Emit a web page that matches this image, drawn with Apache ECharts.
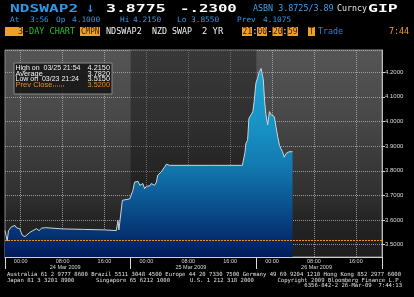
<!DOCTYPE html>
<html><head><meta charset="utf-8">
<script src="https://cdn.jsdelivr.net/npm/echarts@6/dist/echarts.min.js"></script>
<style>html,body{margin:0;padding:0;background:#000;}#c{width:414px;height:297px;}</style>
</head><body><div id="c"></div>
<script>
// ---- data ----
const times = [
 "03/23 21:00","03/23 21:10","03/23 21:25","03/23 21:40","03/23 22:15","03/23 22:55","03/23 23:10","03/23 23:30","03/23 23:50",
 "03/24 00:05","03/24 00:20","03/24 00:50","03/24 01:10","03/24 01:45","03/24 02:20","03/24 03:00","03/24 03:30","03/24 04:00",
 "03/24 04:15","03/24 04:45","03/24 04:55","03/24 08:00","03/24 12:00","03/24 16:00","03/24 18:15","03/24 18:35","03/24 18:45",
 "03/24 19:25","03/24 19:35","03/24 20:50",
 "03/24 21:10","03/24 21:25","03/24 21:45","03/24 22:05","03/24 22:25","03/24 22:45","03/24 23:00","03/24 23:20","03/24 23:40",
 "03/25 00:00","03/25 00:20","03/25 00:40","03/25 00:55","03/25 01:15","03/25 01:35","03/25 01:55","03/25 02:10","03/25 02:30",
 "03/25 02:50","03/25 03:10","03/25 03:30","03/25 03:50","03/25 04:05","03/25 04:25","03/25 12:00","03/25 18:20","03/25 18:30",
 "03/25 18:50","03/25 19:00","03/25 19:20","03/25 19:35","03/25 20:00","03/25 20:20","03/25 20:35","03/25 20:55",
 "03/25 21:15","03/25 21:35","03/25 21:55","03/25 22:05","03/25 22:20","03/25 22:35","03/25 22:50","03/25 23:10","03/25 23:30",
 "03/25 23:50","03/26 00:05","03/26 00:25","03/26 00:45","03/26 01:05","03/26 01:25","03/26 01:40","03/26 02:00","03/26 02:20",
 "03/26 02:40","03/26 03:00","03/26 03:15","03/26 03:55"
];
const values = [
 3.557,3.540,3.515,3.557,3.573,3.578,3.569,3.573,3.564,
 3.550,3.537,3.533,3.540,3.550,3.557,3.565,3.557,3.567,
 3.560,3.569,3.562,3.564,3.562,3.560,3.557,3.598,3.560,
 3.680,3.687,3.686,
 3.684,3.720,3.754,3.748,3.757,3.741,3.734,3.748,3.727,
 3.737,3.744,3.739,3.748,3.753,3.741,3.754,3.782,3.789,
 3.795,3.802,3.816,3.827,3.829,3.822,3.822,3.822,3.829,
 3.875,3.911,3.924,4.013,4.027,4.040,4.081,4.156,
 4.176,4.203,4.215,4.210,4.169,4.081,4.027,3.986,4.040,
 4.027,4.033,4.020,3.979,3.938,3.904,3.891,3.877,3.855,
 3.870,3.863,3.877,3.8775
];
const prevClose = 3.52;
const timeTickLabels = ["00:00","08:00","16:00"];
const dateLabels = {"03/24 08:30":"24 Mar 2009","03/25 08:30":"25 Mar 2009","03/26 08:30":"26 Mar 2009"};
const dayStart = "21:00";
const day2 = ["03/24 21:00","03/25 21:00"];
const statsRows = [["High on  03/25 21:54","4.2150"],["Average","3.7820"],["Low on  03/23 21:24","3.5150"]];
const statsPrev = ["Prev Close","3.5200"];

// category slots every 5 minutes, 23 Mar 21:00 -> 26 Mar 21:00
const categories = [];
(function(){
  const p = n => (n<10?'0':'')+n;
  const base = Date.UTC(2009,2,23,21,0);
  for (let m=0; m<=4320; m+=5){
    const d = new Date(base+m*60000);
    categories.push(p(d.getUTCMonth()+1)+'/'+p(d.getUTCDate())+' '+p(d.getUTCHours())+':'+p(d.getUTCMinutes()));
  }
})();
const seriesData = times.map((t,i)=>[t, values[i]]);

const chart = echarts.init(document.getElementById('c'), null, {renderer:'canvas'});
const isTimeTick = (i,v) => timeTickLabels.indexOf(v.slice(6)) >= 0;

function T(x,y,text,font,fill,sx,align){
  return {type:'text', x:x, y:y, scaleX:sx||1, silent:true, z:20,
    style:{text:text, font:font, fill:fill, verticalAlign:'middle', align:align||'left'}};
}
function R(x,y,w,h,fill,stroke){
  return {type:'rect', silent:true, z:19, shape:{x:x,y:y,width:w,height:h},
    style:{fill:fill, stroke:stroke||null, lineWidth:stroke?1:0}};
}
const MB = 'bold 11px "DejaVu Sans Mono"';
const M9 = '9px "DejaVu Sans Mono"';
const M75 = '7.5px "DejaVu Sans Mono"';
const M8 = '8px "DejaVu Sans Mono"';
const F = '5.6px "DejaVu Sans Mono"';
const cyan = '#2f97e8', orange = '#f0a02a';
const S = '7px "Liberation Sans"';

const bgGrad = new echarts.graphic.LinearGradient(0,0,0,1,[
  {offset:0, color:'#555555'},
  {offset:0.35, color:'#474747'},
  {offset:0.5, color:'#3c3c3c'},
  {offset:0.7, color:'#303030'},
  {offset:0.82, color:'#242424'},
  {offset:1, color:'#1e1e1e'}
]);

const graphics = [
  {type:'rect', silent:true, z:-10, shape:{x:5,y:50,width:377,height:207}, style:{fill:bgGrad}},
  T(10,9,'NDSWAP2',MB,cyan,1.47),
  T(86,9,'↓','bold 10px "DejaVu Sans"',cyan,1),
  T(106,9,'3.8775',MB,'#ffffff',1.5),
  T(180,9,'-.2300',MB,'#ffffff',1.43),
  T(253,9,'ASBN 3.8725/3.89',M9,'#3aa2f0',0.93),
  T(337,9,'Curncy',M9,'#e6e6e6',0.92),
  T(368,9,'GIP',MB,'#ffffff',1.5),
  T(10,20,'At',M75,cyan,1.04), T(30,20,'3:56',M75,cyan,1.04), T(56,20,'Op',M75,cyan,1.04),
  T(72,20,'4.1000',M75,cyan,1.04), T(120,20,'Hi',M75,cyan,1.04), T(133,20,'4.2150',M75,cyan,1.04),
  T(177,20,'Lo',M75,cyan,1.04), T(191,20,'3.8550',M75,cyan,1.04), T(237,20,'Prev',M75,cyan,1.04),
  T(263,20,'4.1075',M75,cyan,1.04),
  R(5,27,18,9,orange), T(23,31.5,'3',M8,'#3a2000',1.05,'right'),
  T(24,31.5,'-DAY CHART',M8,'#22c022',1.06),
  R(80,27,20,9,orange), T(81,31.5,'CMPN',M8,'#3a2000',0.95),
  T(106,31.5,'NDSWAP2',M8,'#f2f2f2',1.06),
  T(152,31.5,'NZD SWAP',M8,'#f2f2f2',1.04),
  T(202,31.5,'2 YR',M8,'#f2f2f2',1.1),
  R(242,27,10,9,orange), T(242.5,31.5,'21',M8,'#3a2000',1.0),
  T(252.5,31.5,':',M8,'#f2f2f2',1),
  R(257,27,10,9,orange), T(257.5,31.5,'00',M8,'#3a2000',1.0),
  T(267.5,31.5,'-',M8,'#f2f2f2',1),
  R(272.5,27,10,9,orange), T(273,31.5,'20',M8,'#3a2000',1.0),
  T(282.5,31.5,':',M8,'#f2f2f2',1),
  R(287.5,27,10.5,9,orange), T(288,31.5,'59',M8,'#3a2000',1.0),
  R(308,27,7,9,orange), T(309,31.5,'T',M8,'#3a2000',1.0),
  T(318,31.5,'Trade',M8,'#2f7fd8',1.04),
  T(409,31.5,'7:44',M8,orange,1.04,'right'),
  R(14,63,98,31,'rgba(24,24,24,0.92)','#8a8a8a'),
  T(15.5,68.5,statsRows[0][0],S,'#f4f4f4',1.0), T(110,68.5,statsRows[0][1],S,'#f4f4f4',1.05,'right'),
  T(15.5,74,statsRows[1][0],S,'#f4f4f4',1.05), T(110,74,statsRows[1][1],S,'#f4f4f4',1.05,'right'),
  T(15.5,79.5,statsRows[2][0],S,'#f4f4f4',1.0), T(110,79.5,statsRows[2][1],S,'#f4f4f4',1.05,'right'),
  T(15.5,85.3,statsPrev[0],S,'#e8901a',1.08), T(110,85.3,statsPrev[1],S,'#e8901a',1.05,'right'),
  {type:'line', silent:true, z:20, shape:{x1:53,y1:86,x2:64,y2:86}, style:{stroke:'#e8901a', lineWidth:1, lineDash:[1,1]}},
  T(7,275,'Australia 61 2 9777 8600 Brazil 5511 3048 4500 Europe 44 20 7330 7500 Germany 49 69 9204 1210 Hong Kong 852 2977 6000',F,'#e0e0e0',1),
  T(7,280.5,'Japan 81 3 3201 8900',F,'#e0e0e0',1),
  T(96,280.5,'Singapore 65 6212 1000',F,'#e0e0e0',1),
  T(190,280.5,'U.S. 1 212 318 2000',F,'#e0e0e0',1),
  T(402,280.5,'Copyright 2009 Bloomberg Finance L.P.',F,'#e0e0e0',1,'right'),
  T(402,286,'6356-842-2 26-Mar-09  7:44:13',F,'#e0e0e0',1,'right')
];

const areaGrad = new echarts.graphic.LinearGradient(0, 60, 0, 257, [
  {offset:0, color:'#1fa8d8'},
  {offset:0.355, color:'#1790c3'},
  {offset:0.533, color:'#137ab0'},
  {offset:0.685, color:'#0d5c97'},
  {offset:0.838, color:'#073c7c'},
  {offset:1, color:'#021a5a'}
], true);
const gridLine = {color:'rgba(175,175,175,0.8)', type:'dotted', width:1};

const option = {
  animation:false,
  backgroundColor:'#000',
  grid:{left:5, right:32, top:50, bottom:40, show:true, backgroundColor:'transparent', borderColor:'#8a8a8a', borderWidth:1},
  xAxis:[{
    type:'category', data:categories, boundaryGap:false,
    axisLine:{show:true, lineStyle:{color:'#cfcfcf', width:1}},
    axisTick:{show:false},
    axisLabel:{interval:isTimeTick, formatter:v=>v.slice(6), color:'#d8d8d8', fontSize:5.5, fontFamily:'Liberation Sans', margin:1},
    splitLine:{show:true, interval:isTimeTick, lineStyle:gridLine}
  },{
    type:'category', data:categories, boundaryGap:false, position:'bottom',
    axisLine:{show:false},
    axisTick:{show:true, interval:(i,v)=>v.slice(6)===dayStart, length:12, inside:false, lineStyle:{color:'#d8d8d8', width:1}},
    axisLabel:{interval:(i,v)=>dateLabels[v]!==undefined, formatter:v=>dateLabels[v]||'', color:'#d8d8d8', fontSize:5.5, fontFamily:'Liberation Sans', margin:7},
    splitLine:{show:false}
  }],
  yAxis:{
    type:'value', position:'right', min:3.45, max:4.29, splitNumber:8,
    axisLine:{show:true, lineStyle:{color:'#bdbdbd'}},
    axisTick:{show:true, length:3, lineStyle:{color:'#cfcfcf'}},
    axisLabel:{showMinLabel:false, showMaxLabel:false, formatter:v=>v.toFixed(4), color:'#dcdcdc', fontSize:6, fontFamily:'Liberation Sans', margin:3},
    splitLine:{show:true, lineStyle:gridLine}
  },
  series:[{
    type:'line', xAxisIndex:0, data:seriesData, symbol:'none', z:2,
    lineStyle:{color:'#cdd3d8', width:1},
    areaStyle:{color:areaGrad, opacity:1, origin:'start'},
    markArea:{silent:true, itemStyle:{color:'rgba(0,0,0,0.33)'}, data:[[{xAxis:day2[0]},{xAxis:day2[1]}]]},
    markLine:{silent:true, symbol:'none', animation:false, data:[
      {yAxis:prevClose, lineStyle:{color:'#f09010', type:[2,1], width:1}, label:{show:false}},
      {yAxis:values[values.length-1], lineStyle:{opacity:0, width:0},
       label:{show:true, position:'end', distance:2, formatter:values[values.length-1].toFixed(4),
              backgroundColor:'#f2f2f2', color:'#555', fontSize:6, fontFamily:'Liberation Sans', padding:[1,2,0,2]}}
    ]}
  }],
  graphic:{elements:graphics}
};
chart.setOption(option);
</script>
</body></html>
